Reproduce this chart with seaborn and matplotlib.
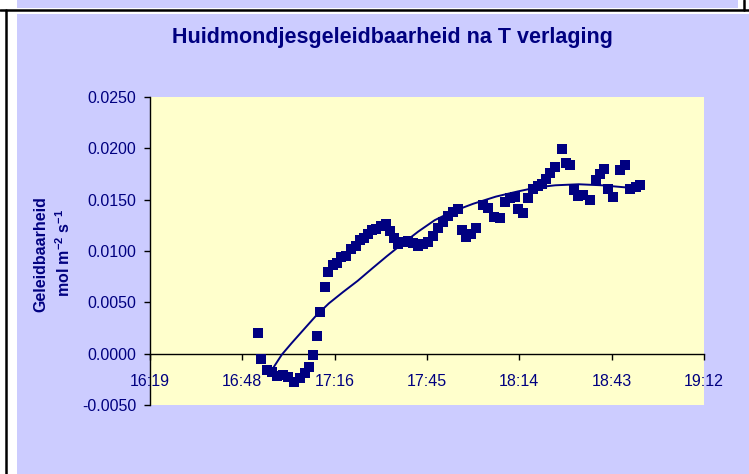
import numpy as np
import matplotlib
matplotlib.use('Agg')
import matplotlib.pyplot as plt
from matplotlib.patches import Rectangle
from matplotlib.lines import Line2D
from matplotlib.ticker import FixedLocator, FuncFormatter
import seaborn as sns

# time of each measurement, minutes after 16:00
minutes = [52.9, 53.8, 55.7, 57.3, 58.8, 60.7, 62.3, 64.1, 66.0, 67.6,
           68.8, 70.1, 71.3, 72.2, 73.8, 74.7, 76.3, 77.5, 78.8, 80.4,
           81.9, 83.5, 84.7, 86.0, 87.2, 88.5, 89.7, 91.3, 92.8, 94.1,
           95.3, 96.6, 98.1, 99.7, 101.3, 102.8, 104.4, 105.9, 107.5, 109.1,
           110.6, 112.2, 113.7, 115.3, 116.5, 117.8, 119.4, 120.9, 123.1, 124.7,
           126.5, 128.4, 130.0, 131.5, 133.1, 134.0, 135.6, 137.1, 138.7, 140.3,
           141.5, 142.8, 144.0, 145.6, 147.7, 149.0, 150.2, 151.5, 152.7, 154.3,
           156.5, 158.4, 159.6, 160.9, 162.1, 163.7, 165.9, 167.4, 169.0, 170.8, 172.1]

# stomatal conductance, mol m-2 s-1
geleidbaarheid = [0.0020, -0.0005, -0.0016, -0.0018, -0.0022, -0.0021, -0.0023, -0.0028, -0.0024, -0.0019,
                  -0.0013, -0.0001, 0.0017, 0.0041, 0.0065, 0.0080, 0.0086, 0.0088, 0.0094, 0.0095,
                  0.0102, 0.0105, 0.0111, 0.0113, 0.0117, 0.0120, 0.0121, 0.0124, 0.0126, 0.0119,
                  0.0113, 0.0107, 0.0109, 0.0110, 0.0108, 0.0105, 0.0107, 0.0109, 0.0115, 0.0122,
                  0.0128, 0.0134, 0.0138, 0.0141, 0.0120, 0.0114, 0.0117, 0.0122, 0.0145, 0.0142,
                  0.0133, 0.0132, 0.0148, 0.0152, 0.0153, 0.0141, 0.0137, 0.0152, 0.0160, 0.0163,
                  0.0165, 0.0170, 0.0176, 0.0182, 0.0199, 0.0186, 0.0184, 0.0159, 0.0154, 0.0155,
                  0.0150, 0.0169, 0.0175, 0.0180, 0.0160, 0.0153, 0.0179, 0.0184, 0.0160, 0.0162, 0.0164]

# trend curve as drawn in the chart
trend_minutes = [57.6, 60.3, 63.3, 67.0, 71.0, 75.0, 79.4, 84.0, 88.5, 93.1, 97.5, 102.9,
                 108.0, 113.2, 120.0, 127.1, 133.9, 140.0, 145.6, 152.9, 160.1, 167.4, 171.6]
trend_values = [-0.0014, -0.0001, 0.0010, 0.0023, 0.0037, 0.0049, 0.0060, 0.0071, 0.0083, 0.0095,
                0.0106, 0.0119, 0.0130, 0.0138, 0.0146, 0.0153, 0.0158, 0.0162, 0.0164, 0.0165,
                0.0164, 0.0162, 0.0161]

# Excel style axis: day fractions 0.68 .. 0.80
x_tick_days = [0.68, 0.70, 0.72, 0.74, 0.76, 0.78, 0.80]
y_ticks = [-0.0050, 0.0000, 0.0050, 0.0100, 0.0150, 0.0200, 0.0250]

title = 'Huidmondjesgeleidbaarheid na T verlaging'
ylabel_1 = 'Geleidbaarheid'
ylabel_2 = 'mol m$^{-2}$ s$^{-1}$'

navy = '#000080'
purple = '#CCCCFF'
yellow = '#FFFFCC'
W, H = 749, 474

sns.set_style('ticks')
plt.rcParams['font.family'] = ['Liberation Sans', 'DejaVu Sans']
plt.rcParams['mathtext.fontset'] = 'custom'
plt.rcParams['mathtext.rm'] = 'Liberation Sans:bold'
plt.rcParams['mathtext.default'] = 'rm'

fig = plt.figure(figsize=(W / 100, H / 100), dpi=100, facecolor='white')

# chart area background and the frame bits around it
fig.patches.append(Rectangle((17 / W, 0), 1 - 17 / W, 1 - 14 / H, transform=fig.transFigure,
                             facecolor=purple, edgecolor='none', zorder=-2))
fig.patches.append(Rectangle((17 / W, 1 - 8 / H), (738 - 17) / W, 8 / H, transform=fig.transFigure,
                             facecolor=purple, edgecolor='none', zorder=-2))
fig.add_artist(Line2D([0, 1], [1 - 9.5 / H, 1 - 9.5 / H], transform=fig.transFigure, color='black', lw=1.8))
fig.add_artist(Line2D([5.5 / W, 5.5 / W], [0, 1 - 9.5 / H], transform=fig.transFigure, color='black', lw=1.8))
fig.add_artist(Line2D([743.5 / W, 743.5 / W], [1 - 9.5 / H, 1], transform=fig.transFigure, color='black', lw=1.8))

ax = fig.add_axes([150 / W, 1 - 405 / H, (704 - 150) / W, (405 - 97) / H])
ax.set_zorder(2)
ax.set_facecolor(yellow)

sns.scatterplot(x=minutes, y=geleidbaarheid, ax=ax, marker='s', s=52, color=navy,
                linewidth=0, alpha=1, zorder=3)
sns.lineplot(x=trend_minutes, y=trend_values, ax=ax, sort=False, color=navy, lw=1.4, zorder=3)

x_ticks = [d * 1440 - 960 for d in x_tick_days]
ax.set_xlim(x_ticks[0], x_ticks[-1])
ax.set_ylim(y_ticks[0], y_ticks[-1])


def fmt_time(m, pos):
    total = 960 + m + 1e-6
    return f'{int(total // 60)}:{int(total % 60):02d}'


ax.xaxis.set_major_locator(FixedLocator(x_ticks))
ax.xaxis.set_major_formatter(FuncFormatter(fmt_time))
ax.yaxis.set_major_locator(FixedLocator(y_ticks))
ax.yaxis.set_major_formatter(FuncFormatter(lambda v, pos: f'{v:.4f}'))

for s in ['top', 'right']:
    ax.spines[s].set_visible(False)
ax.spines['bottom'].set_position(('data', 0))
for s in ['bottom', 'left']:
    ax.spines[s].set_color('black')
    ax.spines[s].set_linewidth(1.0)
    ax.spines[s].set_zorder(1)

ax.tick_params(axis='x', direction='out', length=4, width=1, color='black',
               labelsize=11.5, labelcolor=navy, pad=10.5)
ax.tick_params(axis='y', direction='out', length=4, width=1, color='black',
               labelsize=11.5, labelcolor=navy, pad=6)
ax.set_xlabel('')
ax.set_ylabel('')

fig.text(392 / W, 1 - 37 / H, title, ha='center', va='center', fontsize=15.5,
         fontweight='bold', color=navy)
fig.text(41 / W, 1 - 254 / H, ylabel_1, rotation=90, ha='center', va='center',
         fontsize=11.5, fontweight='bold', color=navy)
fig.text(64 / W, 1 - 253 / H, ylabel_2, rotation=90, ha='center', va='center',
         fontsize=11.5, fontweight='bold', color=navy)

fig.savefig('out.png', dpi=100, facecolor=fig.get_facecolor())
